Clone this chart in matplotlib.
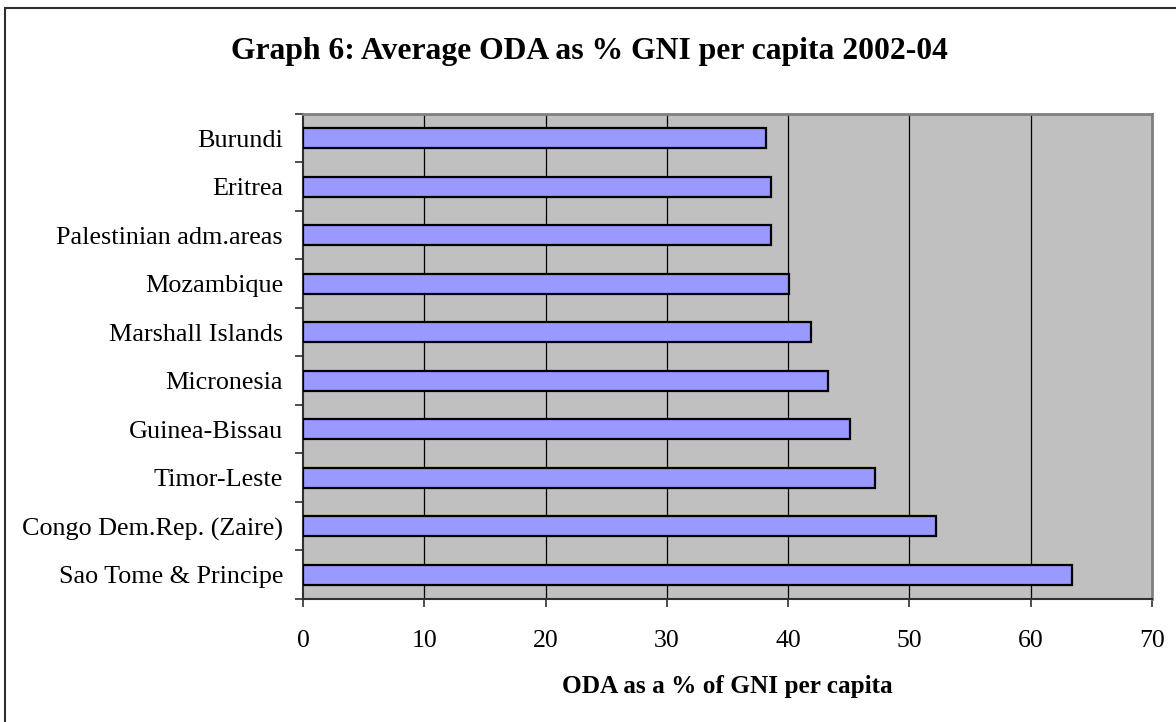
import numpy as np
import matplotlib
matplotlib.use("Agg")
import matplotlib.pyplot as plt
from matplotlib.patches import Rectangle

plt.rcParams.update({"font.family": "Liberation Serif"})

countries = ["Burundi", "Eritrea", "Palestinian adm.areas", "Mozambique",
             "Marshall Islands", "Micronesia", "Guinea-Bissau", "Timor-Leste",
             "Congo Dem.Rep. (Zaire)", "Sao Tome & Principe"]
oda_pct = [38.2, 38.6, 38.6, 40.1, 41.9, 43.3, 45.1, 47.2, 52.2, 63.4]
x_ticks = [0, 10, 20, 30, 40, 50, 60, 70]

W, H = 1176, 722
fig = plt.figure(figsize=(W / 100, H / 100), dpi=100)

# outer chart frame (runs off the right/bottom edge)
fig.patches.append(Rectangle((5 / W, -0.1), 1.2, (H - 8) / H + 0.1,
                             transform=fig.transFigure, fill=False,
                             edgecolor="#303030", linewidth=1.5))

ax = fig.add_axes([303 / W, (H - 599) / H, 849 / W, 485 / H])
ax.set_facecolor("#C0C0C0")

y = np.arange(len(countries))
ax.barh(y, oda_pct, height=0.42, color="#9999FF", edgecolor="black",
        linewidth=1.6, zorder=3)

ax.set_xlim(0, 70)
ax.set_ylim(len(countries) - 0.5, -0.5)

ax.set_xticks(x_ticks)
ax.set_xticklabels([str(v) for v in x_ticks], fontsize=18.5)
ax.tick_params(axis="x", direction="out", length=6, width=1.2, pad=16,
               color="#303030")
for v in x_ticks[1:-1]:
    ax.axvline(v, color="black", linewidth=0.9, zorder=1)

# labels at category centres, tick marks on category boundaries
ax.set_yticks(y)
ax.set_yticklabels(countries, fontsize=18.8)
ax.tick_params(axis="y", which="major", length=0, pad=14.4)
ax.set_yticks(np.arange(-0.5, len(countries), 1.0), minor=True)
ax.tick_params(axis="y", which="minor", direction="out", length=6, width=1.2,
               color="#303030")

for side in ["left", "bottom"]:
    ax.spines[side].set_color("#303030")
    ax.spines[side].set_linewidth(1.5)
for side in ["top", "right"]:
    ax.spines[side].set_color("#808080")
    ax.spines[side].set_linewidth(2)

ax.set_xlabel("ODA as a % of GNI per capita", fontsize=18.2,
              fontweight="bold", labelpad=17)

fig.text(589 / W, 1 - 51 / H, "Graph 6: Average ODA as % GNI per capita 2002-04",
         ha="center", va="center", fontsize=22.8, fontweight="bold")

fig.savefig("out.png", dpi=100)
